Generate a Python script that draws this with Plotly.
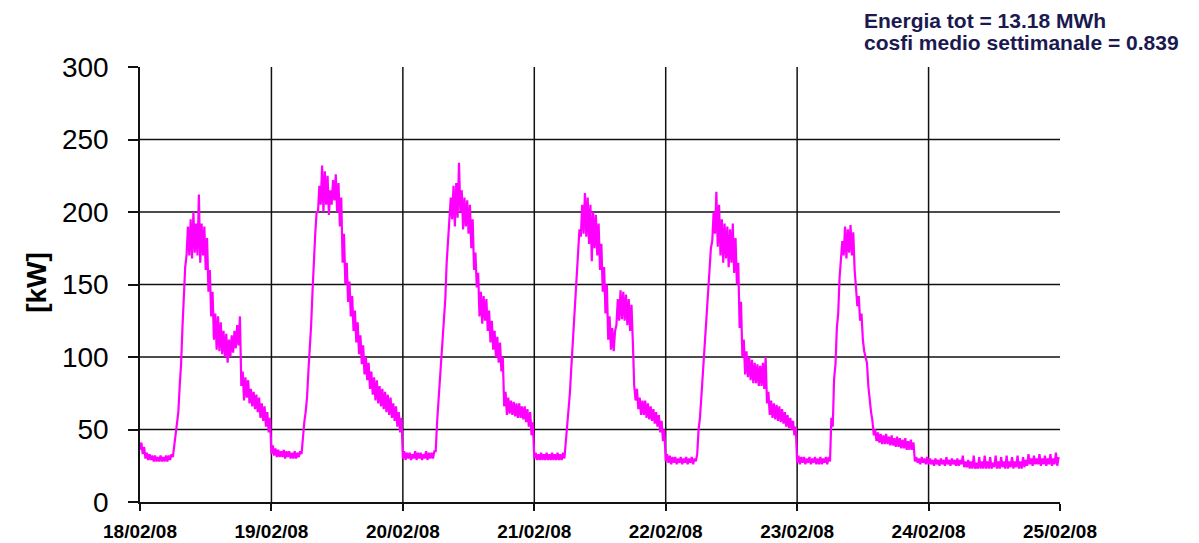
import plotly.graph_objects as go
import pandas as pd

# ---- axis / label data ----
day_dates = ["2008-02-18", "2008-02-19", "2008-02-20", "2008-02-21",
             "2008-02-22", "2008-02-23", "2008-02-24", "2008-02-25"]
day_labels = ["18/02/08", "19/02/08", "20/02/08", "21/02/08",
              "22/02/08", "23/02/08", "24/02/08", "25/02/08"]
y_ticks = [0, 50, 100, 150, 200, 250, 300]

# ---- power readings [kW], every 30 min: a = sample at :00/:30, b = sample at :15/:45 ----
a18 = [36, 33, 30, 29, 29, 28, 28, 28, 28, 28, 28, 29,
       31, 46, 62, 95, 140, 170, 170, 168, 172, 170, 165, 170,
       160, 145, 128, 112, 105, 104, 102, 100, 96, 100, 103, 106,
       108, 80, 70, 72, 68, 66, 64, 62, 58, 56, 52, 48]
b18 = [41, 38, 34, 33, 32, 32, 31, 32, 31, 32, 32, 33,
       38, 54, 80, 120, 162, 190, 195, 200, 192, 212, 192, 190,
       182, 160, 145, 130, 128, 124, 118, 116, 112, 115, 118, 122,
       128, 90, 86, 84, 78, 76, 74, 72, 68, 66, 62, 58]

a19 = [33, 32, 31, 31, 31, 30, 31, 30, 30, 30, 31, 33,
       55, 72, 105, 145, 185, 200, 205, 200, 205, 198, 205, 208,
       200, 190, 165, 150, 138, 128, 118, 110, 102, 95, 88, 84,
       78, 74, 70, 68, 66, 64, 62, 60, 58, 56, 52, 48]
b19 = [39, 37, 36, 35, 36, 35, 35, 34, 35, 34, 35, 46,
       62, 90, 122, 170, 200, 218, 232, 228, 225, 215, 222, 226,
       220, 210, 185, 165, 152, 142, 132, 124, 115, 108, 100, 96,
       90, 86, 84, 80, 78, 76, 74, 72, 68, 66, 62, 58]

a20 = [30, 29, 30, 29, 30, 29, 30, 29, 30, 29, 30, 30,
       35, 70, 96, 125, 165, 198, 195, 190, 196, 200, 188, 190,
       185, 175, 160, 148, 128, 123, 125, 118, 110, 105, 100, 96,
       90, 66, 60, 61, 60, 59, 58, 58, 57, 55, 52, 46]
b20 = [35, 34, 34, 33, 35, 34, 34, 33, 35, 34, 34, 35,
       55, 85, 110, 140, 178, 210, 218, 220, 234, 215, 210, 208,
       205, 195, 172, 158, 145, 142, 140, 132, 125, 118, 114, 110,
       100, 76, 72, 70, 69, 68, 68, 66, 66, 64, 62, 55]

a21 = [30, 29, 29, 29, 29, 29, 29, 29, 29, 29, 29, 30,
       52, 75, 108, 140, 170, 183, 185, 183, 178, 166, 175, 170,
       160, 145, 130, 112, 105, 104, 122, 125, 126, 125, 122, 118,
       110, 70, 64, 60, 60, 58, 57, 56, 54, 52, 48, 42]
b21 = [34, 33, 34, 33, 34, 33, 34, 33, 34, 33, 34, 40,
       62, 92, 125, 158, 188, 205, 213, 210, 205, 200, 198, 192,
       178, 162, 150, 128, 120, 118, 140, 146, 145, 143, 140, 136,
       80, 78, 72, 70, 70, 68, 66, 64, 62, 60, 56, 50]

a22 = [28, 27, 26, 27, 26, 27, 26, 27, 26, 27, 26, 28,
       50, 72, 100, 135, 160, 180, 185, 176, 170, 165, 168, 162,
       165, 158, 150, 120, 100, 88, 86, 84, 82, 82, 80, 80,
       78, 68, 60, 58, 57, 56, 55, 54, 52, 51, 50, 46]
b22 = [33, 32, 31, 31, 30, 31, 30, 31, 30, 31, 30, 33,
       58, 88, 120, 150, 175, 200, 214, 205, 195, 192, 190, 188,
       192, 182, 165, 138, 112, 104, 100, 98, 96, 95, 94, 96,
       100, 76, 70, 68, 67, 66, 64, 62, 60, 58, 56, 52]

a23 = [27, 26, 27, 26, 27, 26, 27, 26, 26, 26, 27, 26,
       28, 52, 95, 130, 168, 170, 168, 172, 170, 160, 135, 125,
       112, 100, 80, 62, 46, 42, 41, 40, 40, 40, 39, 39,
       38, 38, 37, 37, 36, 36, 36, 28, 27, 26, 27, 26]
b23 = [32, 31, 31, 30, 31, 30, 31, 30, 31, 30, 31, 31,
       58, 85, 120, 155, 180, 190, 188, 191, 186, 145, 142, 130,
       104, 96, 70, 56, 50, 48, 47, 46, 47, 45, 46, 44,
       45, 44, 43, 44, 42, 43, 41, 31, 30, 31, 30, 31]

a24 = [26, 26, 25, 26, 25, 26, 25, 26, 25, 26, 25, 25,
       26, 24, 24, 23, 23, 23, 23, 23, 23, 23, 23, 23,
       24, 23, 23, 24, 23, 23, 24, 23, 24, 23, 23, 24,
       25, 26, 25, 26, 26, 25, 26, 25, 26, 25, 26, 25]
b24 = [30, 29, 30, 29, 30, 29, 31, 29, 30, 29, 30, 29,
       32, 28, 29, 28, 32, 27, 31, 28, 32, 28, 31, 27,
       32, 28, 31, 28, 32, 28, 31, 28, 32, 28, 31, 29,
       33, 30, 32, 30, 33, 30, 32, 30, 33, 30, 34, 31]

info_line1 = "Energia tot = 13.18 MWh"
info_line2 = "cosfi medio settimanale = 0.839"

series_a = [a18, a19, a20, a21, a22, a23, a24]
series_b = [b18, b19, b20, b21, b22, b23, b24]

xs, ys = [], []
for d, la, lb in zip(day_dates[:7], series_a, series_b):
    base = pd.Timestamp(d)
    for i, (va, vb) in enumerate(zip(la, lb)):
        xs.append(base + pd.Timedelta(minutes=30 * i))
        ys.append(va)
        xs.append(base + pd.Timedelta(minutes=30 * i + 15))
        ys.append(vb)

fig = go.Figure()
fig.add_trace(go.Scatter(x=xs, y=ys, mode="lines",
                         line=dict(color="#ff00ff", width=2.2),
                         showlegend=False, hoverinfo="skip"))

shapes = []
for d in day_dates[1:7]:
    shapes.append(dict(type="line", xref="x", yref="paper", x0=d, x1=d, y0=0, y1=1,
                       line=dict(color="#111111", width=1.5), layer="below"))
for v in y_ticks[1:-1]:
    shapes.append(dict(type="line", xref="paper", yref="y", x0=0, x1=1, y0=v, y1=v,
                       line=dict(color="#111111", width=1.5), layer="below"))

font_main = "Arial, 'Liberation Sans', sans-serif"

fig.update_layout(
    width=1183, height=535,
    margin=dict(l=132, r=131, t=59, b=41),
    paper_bgcolor="white", plot_bgcolor="white",
    shapes=shapes,
    xaxis=dict(type="date", range=[day_dates[0], day_dates[-1]],
               tickvals=day_dates, ticktext=day_labels,
               tickfont=dict(family=font_main, size=19, color="black", weight="bold"),
               ticks="outside", ticklen=7, tickwidth=1.5, tickcolor="#111111",
               ticklabelstandoff=4, automargin=False,
               showline=True, linecolor="#111111", linewidth=1.5,
               showgrid=False, zeroline=False),
    yaxis=dict(range=[0, 300], tickvals=y_ticks,
               tickfont=dict(family=font_main, size=28, color="black"),
               ticks="outside", ticklen=10, tickwidth=1.5, tickcolor="#111111",
               ticklabelstandoff=14, automargin=False,
               showline=True, linecolor="#111111", linewidth=1.5,
               showgrid=False, zeroline=False),
    annotations=[
        dict(text="[kW]", textangle=-90, xref="paper", yref="paper",
             x=-0.112, y=0.506, xanchor="center", yanchor="middle", showarrow=False,
             font=dict(family=font_main, size=28, color="black", weight="bold")),
        dict(text=info_line1, xref="paper", yref="paper", x=0.786, y=1.108,
             xanchor="left", yanchor="middle", showarrow=False, borderpad=0,
             font=dict(family=font_main, size=21, color="#1a1a50", weight="bold")),
        dict(text=info_line2, xref="paper", yref="paper", x=0.786, y=1.056,
             xanchor="left", yanchor="middle", showarrow=False, borderpad=0,
             font=dict(family=font_main, size=21, color="#1a1a50", weight="bold")),
    ],
)

fig.write_html("out.html")
